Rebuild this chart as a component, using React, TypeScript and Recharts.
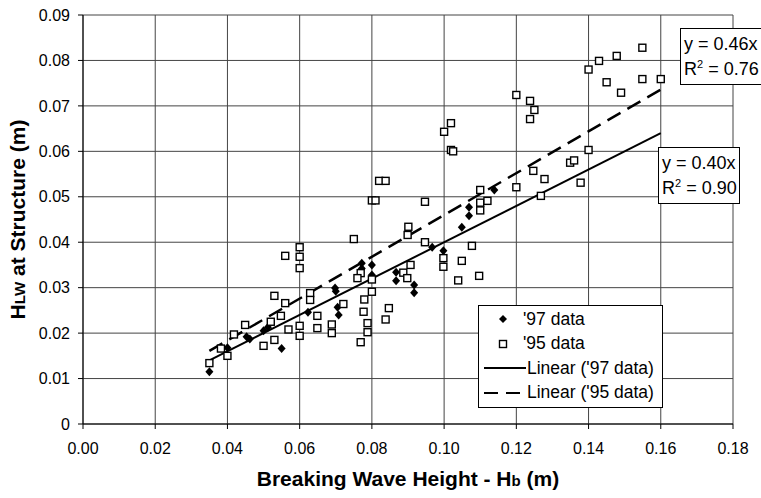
import React from "react";
import {
  ScatterChart,
  Scatter,
  XAxis,
  YAxis,
  CartesianGrid,
  ReferenceLine,
  Label,
} from "recharts";

// '97 data (filled diamonds)
const x97 = [
  0.035, 0.040, 0.0453, 0.0462, 0.050, 0.0512, 0.055, 0.0623, 0.0698, 0.070,
  0.0705, 0.0708, 0.0772, 0.0772, 0.080, 0.080, 0.0867, 0.0867, 0.0917, 0.0917,
  0.0967, 0.0998, 0.1049, 0.1069, 0.1069, 0.1139,
];
const y97 = [
  0.0115, 0.0168, 0.0192, 0.0187, 0.0205, 0.0213, 0.0166, 0.0246, 0.0299, 0.0292,
  0.0257, 0.0240, 0.0354, 0.0342, 0.0350, 0.0328, 0.0334, 0.0315, 0.0306, 0.0289,
  0.0389, 0.0381, 0.0433, 0.0477, 0.0458, 0.0515,
];

// '95 data (open squares)
const x95 = [
  0.035, 0.0382, 0.040, 0.0418, 0.0449, 0.050, 0.052, 0.053, 0.053, 0.0548,
  0.056, 0.056, 0.0569, 0.060, 0.060, 0.060, 0.060, 0.060, 0.0629, 0.0629,
  0.0649, 0.0649, 0.0689, 0.0689, 0.0721, 0.075, 0.0769, 0.076, 0.0779, 0.0777,
  0.0788, 0.0788, 0.0769, 0.080, 0.080, 0.080, 0.081, 0.082, 0.0838, 0.0847,
  0.0838, 0.0887, 0.0898, 0.0907, 0.0901, 0.0899, 0.0947, 0.0947, 0.0998, 0.0998,
  0.100, 0.1019, 0.1019, 0.1025, 0.1049, 0.1039, 0.1077, 0.1097, 0.110, 0.110,
  0.112, 0.110, 0.120, 0.120, 0.1238, 0.125, 0.1238, 0.1247, 0.1278, 0.1268,
  0.1349, 0.136, 0.1378, 0.140, 0.140, 0.1429, 0.1478, 0.1549, 0.145, 0.1549,
  0.160, 0.149,
];
const y95 = [
  0.0134, 0.0166, 0.0150, 0.0197, 0.0218, 0.0172, 0.0225, 0.0282, 0.0185, 0.0238,
  0.0370, 0.0266, 0.0208, 0.0389, 0.0368, 0.0343, 0.0216, 0.0194, 0.0288, 0.0273,
  0.0238, 0.0211, 0.0219, 0.0200, 0.0264, 0.0407, 0.0332, 0.0321, 0.0274, 0.0247,
  0.0222, 0.0202, 0.0180, 0.0318, 0.0291, 0.0492, 0.0492, 0.0535, 0.0535, 0.0255,
  0.0230, 0.0333, 0.0321, 0.0350, 0.0434, 0.0416, 0.0400, 0.0489, 0.0365, 0.0346,
  0.0643, 0.0662, 0.0603, 0.0600, 0.0359, 0.0316, 0.0392, 0.0326, 0.0515, 0.0487,
  0.0491, 0.0470, 0.0521, 0.0724, 0.0711, 0.0691, 0.0671, 0.0557, 0.0539, 0.0502,
  0.0575, 0.0580, 0.0531, 0.0603, 0.0780, 0.0799, 0.0810, 0.0828, 0.0752, 0.0759,
  0.0759, 0.0729,
];

// linear fits through origin
const trendX = [0.035, 0.16];
const trend97Y = [0.014, 0.064];
const trend95Y = [0.0161, 0.0736];

const xTicks = [0, 0.02, 0.04, 0.06, 0.08, 0.1, 0.12, 0.14, 0.16, 0.18];
const yTicks = [0, 0.01, 0.02, 0.03, 0.04, 0.05, 0.06, 0.07, 0.08, 0.09];

const FONT = "'Liberation Sans', Arial, sans-serif";

const data97 = x97.map((x, i) => ({ x, y: y97[i] }));
const data95 = x95.map((x, i) => ({ x, y: y95[i] }));

function DiamondDot(props: any) {
  const { cx, cy } = props;
  if (cx == null || cy == null) return <g />;
  return (
    <path
      d={`M${cx},${cy - 4.5}L${cx + 4},${cy}L${cx},${cy + 4.5}L${cx - 4},${cy}Z`}
      fill="#000"
    />
  );
}

function SquareDot(props: any) {
  const { cx, cy } = props;
  if (cx == null || cy == null) return <g />;
  return (
    <rect
      x={cx - 3.5}
      y={cy - 3.5}
      width={7}
      height={7}
      fill="#fff"
      stroke="#000"
      strokeWidth={1.4}
    />
  );
}

// legend drawn as an overlay so it doesn't eat plot space
function LegendBox() {
  const row = { display: "flex", alignItems: "center", height: 24.5 } as const;
  return (
    <div
      style={{
        position: "absolute",
        left: 478,
        top: 305,
        border: "1px solid #000",
        background: "#fff",
        width: 183,
        padding: "1px 0 2px 0",
        fontFamily: FONT,
        fontSize: 17.5,
        color: "#000",
        whiteSpace: "nowrap",
      }}
    >
      <div style={row}>
        <svg width={44} height={20}>
          <path d="M24,6L28,10L24,14L20,10Z" fill="#000" />
        </svg>
        <span>'97 data</span>
      </div>
      <div style={row}>
        <svg width={44} height={20}>
          <rect x={20.5} y={6.5} width={7} height={7} fill="#fff" stroke="#000" strokeWidth={1.4} />
        </svg>
        <span>'95 data</span>
      </div>
      <div style={row}>
        <svg width={48} height={20}>
          <line x1={5} y1={10} x2={47} y2={10} stroke="#000" strokeWidth={2} />
        </svg>
        <span>Linear ('97 data)</span>
      </div>
      <div style={row}>
        <svg width={48} height={20}>
          <line x1={5} y1={10} x2={47} y2={10} stroke="#000" strokeWidth={2} strokeDasharray="14 8" />
        </svg>
        <span>Linear ('95 data)</span>
      </div>
    </div>
  );
}

function EqBox({ left, top, width, eq, r2 }: { left: number; top: number; width: number; eq: string; r2: string }) {
  return (
    <div
      style={{
        position: "absolute",
        left,
        top,
        width,
        border: "1px solid #000",
        background: "#fff",
        fontFamily: FONT,
        fontSize: 18,
        lineHeight: "25px",
        padding: "3px 0 2px 3px",
        color: "#000",
        boxSizing: "border-box",
        whiteSpace: "nowrap",
      }}
    >
      <div>{eq}</div>
      <div>
        R<sup style={{ fontSize: 11, verticalAlign: "7px", lineHeight: 0 }}>2</sup> = {r2}
      </div>
    </div>
  );
}

export default function App() {
  return (
    <div style={{ position: "absolute", left: 0, top: 0, width: 761, height: 498, background: "#fff", overflow: "hidden" }}>
      <ScatterChart width={761} height={498} margin={{ top: 15, right: 28, left: 0, bottom: 0 }}>
        <CartesianGrid stroke="#444" strokeWidth={1} />
        <XAxis
          type="number"
          dataKey="x"
          domain={[0, 0.18]}
          ticks={xTicks}
          tickFormatter={(v: number) => v.toFixed(2)}
          height={74}
          stroke="#000"
          tickSize={5}
          tickMargin={14}
          tick={{ fontSize: 16, fill: "#000", fontFamily: FONT }}
          interval={0}
        >
          <Label
            content={(p: any) => {
              const vb = p.viewBox;
              return (
                <text
                  x={vb.x + vb.width / 2}
                  y={vb.y + 62}
                  textAnchor="middle"
                  fontFamily={FONT}
                  fontWeight="bold"
                  fontSize={21}
                  fill="#000"
                >
                  Breaking Wave Height - H<tspan fontSize={15}>b</tspan> (m)
                </text>
              );
            }}
          />
        </XAxis>
        <YAxis
          type="number"
          dataKey="y"
          domain={[0, 0.09]}
          ticks={yTicks}
          tickFormatter={(v: number) => (v === 0 ? "0" : v.toFixed(2))}
          width={83}
          stroke="#000"
          tickSize={5}
          tickMargin={8}
          tick={{ fontSize: 16, fill: "#000", fontFamily: FONT }}
          interval={0}
        >
          <Label
            content={(p: any) => {
              const vb = p.viewBox;
              const cx = vb.x + 25;
              const cy = vb.y + vb.height / 2;
              return (
                <text
                  x={cx}
                  y={cy}
                  transform={`rotate(-90, ${cx}, ${cy})`}
                  textAnchor="middle"
                  fontFamily={FONT}
                  fontWeight="bold"
                  fontSize={21}
                  fill="#000"
                >
                  H<tspan fontSize={15}>LW</tspan> at Structure (m)
                </text>
              );
            }}
          />
        </YAxis>
        <Scatter name="'97 data" data={data97} shape={<DiamondDot />} isAnimationActive={false} />
        <Scatter name="'95 data" data={data95} shape={<SquareDot />} isAnimationActive={false} />
        <ReferenceLine
          segment={[
            { x: trendX[0], y: trend97Y[0] },
            { x: trendX[1], y: trend97Y[1] },
          ]}
          stroke="#000"
          strokeWidth={2}
        />
        <ReferenceLine
          segment={[
            { x: trendX[0], y: trend95Y[0] },
            { x: trendX[1], y: trend95Y[1] },
          ]}
          stroke="#000"
          strokeWidth={2.5}
          strokeDasharray="15 8"
        />
      </ScatterChart>
      <LegendBox />
      <EqBox left={680} top={28} width={85} eq="y = 0.46x" r2="0.76" />
      <EqBox left={658} top={147} width={82} eq="y = 0.40x" r2="0.90" />
    </div>
  );
}
